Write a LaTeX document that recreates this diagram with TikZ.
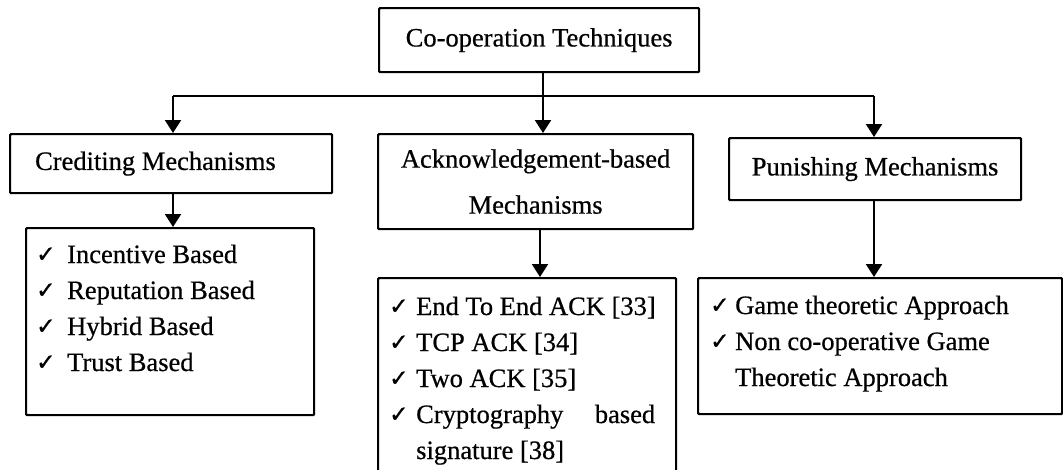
\documentclass[tikz,border=0pt]{standalone}
\usepackage{fontspec}
\setmainfont{Liberation Serif}[AutoFakeBold=0.6]
\newfontfamily\symf{DejaVu Sans}[FakeBold=1.2]
\usetikzlibrary{arrows.meta,calc}
\tikzset{
 box/.style={draw, line width=2.2pt, rounded corners=1pt, inner sep=0pt, anchor=north west, font=\bfseries\fontsize{26.5pt}{36pt}\selectfont},
 conn/.style={line width=2.2pt},
 arr/.style={conn, -{Triangle[width=16pt,length=13pt]}},
 chk/.style={anchor=base west, inner sep=0pt, font=\symf\fontsize{23pt}{23pt}\selectfont},
 item/.style={anchor=base west, inner sep=0pt, font=\bfseries\fontsize{26.5pt}{36pt}\selectfont},
}
\begin{document}
\begin{tikzpicture}[x=1pt,y=-1pt]
\useasboundingbox (0,0) rectangle (1063,469);
\clip (0,0) rectangle (1063,469);
% title and category boxes
\node[box, minimum width=320pt, minimum height=64pt] (top) at (378,7) {Co-operation Techniques};
\node[box, minimum width=322pt, minimum height=59pt] (cred) at (9,133) {\hspace*{10pt}\makebox[282pt][l]{Crediting Mechanisms}};
\node[box, minimum width=315pt, minimum height=95pt, align=center, font=\bfseries\fontsize{26.5pt}{46pt}\selectfont] (ack) at (377,133) {Acknowledgement-based\\Mechanisms};
\node[box, minimum width=292pt, minimum height=62pt] (pun) at (728,137) {Punishing Mechanisms};
% list boxes
\node[box, minimum width=288pt, minimum height=187pt] (clist) at (25,227) {};
\node[box, minimum width=298pt, minimum height=240pt] (mlist) at (377,277) {};
\node[box, minimum width=364pt, minimum height=136pt] (rlist) at (697,277) {};
% connectors
\coordinate (jl) at (173,96);
\coordinate (jc) at (543,96);
\coordinate (jr) at (874,96);
\coordinate (jm) at (540,250);
\draw[conn] (jl) -- (jr);
\draw[arr] (top.south -| jc) -- (ack.north -| jc);
\draw[arr] (jl) -- (cred.north -| jl);
\draw[arr] (jr) -- (pun.north -| jr);
\draw[arr] (cred.south -| jl) -- (clist.north -| jl);
\draw[arr] (ack.south -| jm) -- (mlist.north -| jm);
\draw[arr] (pun.south -| jr) -- (rlist.north -| jr);
% crediting list
\node[chk] (c1k) at (36,262) {✓}; \node[item] (c1) at (67,263) {Incentive Based};
\node[chk] (c2k) at (36,298) {✓}; \node[item] (c2) at (67,299) {Reputation Based};
\node[chk] (c3k) at (36,334) {✓}; \node[item] (c3) at (67,335) {Hybrid Based};
\node[chk] (c4k) at (36,370) {✓}; \node[item] (c4) at (67,371) {Trust Based};
% acknowledgement list
\node[chk] (m1k) at (389,314) {✓}; \node[item] (m1) at (416,315) {End To End ACK [33]};
\node[chk] (m2k) at (389,350) {✓}; \node[item] (m2) at (416,351) {TCP ACK [34]};
\node[chk] (m3k) at (389,386) {✓}; \node[item] (m3) at (416,387) {Two ACK [35]};
\node[chk] (m4k) at (389,422) {✓}; \node[item] (m4) at (416,423) {\makebox[239pt][s]{Cryptography\hfill based}};
\node[item] (m5) at (416,459) {signature [38]};
% punishing list
\node[chk] (r1k) at (710,313) {✓}; \node[item] (r1) at (735,314) {Game theoretic Approach};
\node[chk] (r2k) at (710,349) {✓}; \node[item] (r2) at (735,350) {Non co-operative Game};
\node[item] (r3) at (735,386) {Theoretic Approach};
\end{tikzpicture}
\end{document}
